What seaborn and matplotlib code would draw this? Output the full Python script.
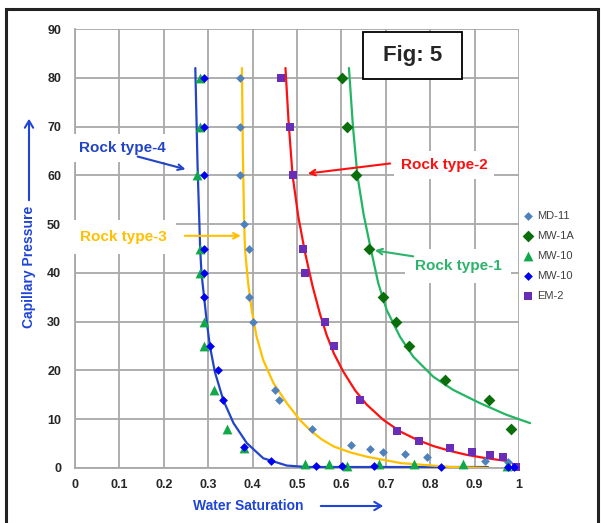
import matplotlib
matplotlib.use("Agg")
import matplotlib.pyplot as plt
from matplotlib.patches import Rectangle
import seaborn as sns

# ---------------- data ----------------
md11_x = [0.372, 0.372, 0.372, 0.381, 0.393, 0.393, 0.400, 0.451, 0.460, 0.534, 0.621, 0.664, 0.694, 0.743, 0.792, 0.923, 0.975]
md11_y = [80, 70, 60, 50, 45, 35, 30, 16, 14, 8, 4.8, 3.8, 3.2, 2.8, 2.2, 1.5, 1.2]

mw1a_x = [0.602, 0.613, 0.632, 0.662, 0.694, 0.724, 0.752, 0.833, 0.933, 0.982]
mw1a_y = [80, 70, 60, 45, 35, 30, 25, 18, 14, 8]

mw10t_x = [0.282, 0.282, 0.275, 0.282, 0.282, 0.290, 0.290, 0.312, 0.342, 0.380, 0.519, 0.572, 0.613, 0.685, 0.764, 0.873, 0.974]
mw10t_y = [80, 70, 60, 45, 40, 30, 25, 16, 8, 4, 0.8, 0.8, 0.5, 0.8, 0.8, 0.8, 0.5]

mw10d_x = [0.290, 0.290, 0.290, 0.290, 0.290, 0.291, 0.305, 0.321, 0.333, 0.380, 0.442, 0.542, 0.602, 0.673, 0.824, 0.975, 0.989]
mw10d_y = [80, 70, 60, 45, 40, 35, 25, 20, 14, 4.3, 1.4, 0.5, 0.5, 0.5, 0.3, 0.3, 0.2]

em2_x = [0.463, 0.484, 0.490, 0.513, 0.519, 0.562, 0.583, 0.643, 0.725, 0.775, 0.845, 0.895, 0.935, 0.963, 0.993]
em2_y = [80, 70, 60, 45, 40, 30, 25, 14, 7.6, 5.6, 4.0, 3.2, 2.7, 2.2, 0.2]

# fitted rock-type curves
rt4_x = [0.271, 0.276, 0.282, 0.285, 0.291, 0.297, 0.304, 0.315, 0.334, 0.357, 0.387, 0.424, 0.477, 0.522, 0.650, 0.800, 0.930]
rt4_y = [82, 62, 44.7, 39.8, 34.8, 29.8, 24.9, 19.7, 13.9, 9.2, 5.1, 2.0, 0.5, 0.2, 0.2, 0.2, 0.2]

rt3_x = [0.376, 0.378, 0.381, 0.383, 0.390, 0.398, 0.409, 0.424, 0.447, 0.477, 0.507, 0.529, 0.555, 0.583, 0.620, 0.658, 0.734, 0.846, 0.930]
rt3_y = [82, 65, 50, 44.7, 37.9, 32.4, 26.9, 22.1, 17.4, 13.3, 9.8, 7.8, 5.9, 4.4, 3.2, 2.3, 1.0, 0.2, 0.0]

rt2_x = [0.474, 0.481, 0.490, 0.503, 0.518, 0.535, 0.552, 0.567, 0.583, 0.604, 0.631, 0.657, 0.694, 0.732, 0.770, 0.807, 0.845, 0.882, 0.920, 0.975]
rt2_y = [82, 71, 60, 51.5, 44.2, 37.3, 31.5, 27.2, 23.5, 19.8, 15.9, 13.0, 9.9, 7.5, 5.8, 4.5, 3.5, 2.7, 2.1, 1.4]

rt1_x = [0.617, 0.626, 0.636, 0.650, 0.666, 0.683, 0.702, 0.732, 0.762, 0.807, 0.852, 0.912, 0.972, 1.025]
rt1_y = [82, 70, 60, 52, 45, 37.9, 32.4, 26.9, 22.8, 18.7, 16.0, 13.3, 10.9, 9.2]

x_ticks = [0, 0.1, 0.2, 0.3, 0.4, 0.5, 0.6, 0.7, 0.8, 0.9, 1]
x_tick_labels = ["0", "0.1", "0.2", "0.3", "0.4", "0.5", "0.6", "0.7", "0.8", "0.9", "1"]
y_ticks = [0, 10, 20, 30, 40, 50, 60, 70, 80, 90]

# ---------------- style ----------------
sns.set_style("white")
plt.rcParams["font.family"] = ["Liberation Sans", "DejaVu Sans"]

W, H = 601, 523
fig = plt.figure(figsize=(W / 100, H / 100), dpi=100)
ax = fig.add_axes([75 / W, 1 - 468 / H, (519 - 75) / W, (468 - 29) / H])

grid_c = "#A8A8A8"
ax.set_xlim(0, 1)
ax.set_ylim(0, 90)
ax.set_xticks(x_ticks)
ax.set_xticklabels(x_tick_labels)
ax.set_yticks(y_ticks)
ax.grid(True, color=grid_c, lw=1.3, zorder=0)
ax.set_axisbelow(True)
for s in ["top", "right"]:
    ax.spines[s].set_visible(False)
for s in ["left", "bottom"]:
    ax.spines[s].set_color(grid_c)
    ax.spines[s].set_linewidth(1.3)
ax.tick_params(axis="both", which="both", length=4, width=1.0, color=grid_c,
               labelsize=9, direction="out")
ax.tick_params(axis="x", pad=4)
ax.tick_params(axis="y", pad=6)
for lab in ax.get_xticklabels() + ax.get_yticklabels():
    lab.set_fontweight("bold")
ax.set_xlabel("")
ax.set_ylabel("")

# ---------------- curves ----------------
c4, c3, c2, c1 = "#2244C8", "#FFC000", "#FF1010", "#22B562"
sns.lineplot(x=rt4_x, y=rt4_y, sort=False, estimator=None, color=c4, lw=1.6, ax=ax, zorder=4)
sns.lineplot(x=rt3_x, y=rt3_y, sort=False, estimator=None, color=c3, lw=1.6, ax=ax, zorder=4)
sns.lineplot(x=rt2_x, y=rt2_y, sort=False, estimator=None, color=c2, lw=1.6, ax=ax, zorder=4)
sns.lineplot(x=rt1_x, y=rt1_y, sort=False, estimator=None, color=c1, lw=1.6, ax=ax, zorder=4, clip_on=False)

# ---------------- points ----------------
sns.scatterplot(x=md11_x, y=md11_y, marker="D", s=20, color="#4F81BD", linewidth=0, ax=ax, label="MD-11", zorder=5, clip_on=False)
sns.scatterplot(x=mw1a_x, y=mw1a_y, marker="D", s=36, color="#0A6E0A", linewidth=0, ax=ax, label="MW-1A", zorder=5, clip_on=False)
sns.scatterplot(x=mw10t_x, y=mw10t_y, marker="^", s=50, color="#11A84A", linewidth=0, ax=ax, label="MW-10", zorder=5, clip_on=False)
sns.scatterplot(x=mw10d_x, y=mw10d_y, marker="D", s=20, color="#0000F0", linewidth=0, ax=ax, label="MW-10", zorder=6, clip_on=False)
sns.scatterplot(x=em2_x, y=em2_y, marker="s", s=30, color="#6A2DB8", linewidth=0, ax=ax, label="EM-2", zorder=5, clip_on=False)

handles, labels = ax.get_legend_handles_labels()
if ax.get_legend() is not None:
    ax.get_legend().remove()
leg = fig.legend(handles, labels, loc="upper left", bbox_to_anchor=(524 / W, 1 - 211 / H),
                 frameon=False, fontsize=8, labelspacing=0.9, handlelength=0.8,
                 handletextpad=0.35, borderaxespad=0, borderpad=0)
for t in leg.get_texts():
    t.set_color("#404040")

# ---------------- annotations ----------------
box = dict(facecolor="white", edgecolor="none", pad=5)
ax.text(0.106, 65.6, "Rock type-4", color=c4, fontsize=11, fontweight="bold",
        ha="center", va="center", bbox=box, zorder=3)
ax.annotate("", xy=(0.255, 61.1), xytext=(0.135, 64.0),
            arrowprops=dict(arrowstyle="->", color=c4, lw=1.5), zorder=7)

ax.text(0.108, 47.4, "Rock type-3", color=c3, fontsize=11, fontweight="bold",
        ha="center", va="center", bbox=dict(facecolor="white", edgecolor="none", pad=7), zorder=3)
ax.annotate("", xy=(0.380, 47.6), xytext=(0.241, 47.6),
            arrowprops=dict(arrowstyle="->", color=c3, lw=1.5), zorder=7)

ax.text(0.831, 62.1, "Rock type-2", color=c2, fontsize=11, fontweight="bold",
        ha="center", va="center", bbox=box, zorder=3)
ax.annotate("", xy=(0.518, 60.3), xytext=(0.716, 62.5),
            arrowprops=dict(arrowstyle="->", color=c2, lw=1.5), zorder=7)

ax.text(0.863, 41.4, "Rock type-1", color="#2DB36B", fontsize=11, fontweight="bold",
        ha="center", va="center", bbox=dict(facecolor="white", edgecolor="none", pad=7), zorder=3)
ax.annotate("", xy=(0.669, 44.7), xytext=(0.768, 43.3),
            arrowprops=dict(arrowstyle="->", color="#2DB36B", lw=1.5), zorder=7)

# ---------------- axis titles with arrows ----------------
lab_c = "#1F45D6"
fig.text(29 / W, 1 - 267 / H, "Capillary Pressure", rotation=90, color=lab_c,
         fontsize=10, fontweight="bold", ha="center", va="center")
fig.patches.append(matplotlib.patches.FancyArrowPatch(
    (29 / W, 1 - 203 / H), (29 / W, 1 - 116 / H), transform=fig.transFigure,
    arrowstyle="->,head_width=3,head_length=5", color=lab_c, lw=1.5))

fig.text(248 / W, 1 - 506 / H, "Water Saturation", color=lab_c,
         fontsize=10, fontweight="bold", ha="center", va="center")
fig.patches.append(matplotlib.patches.FancyArrowPatch(
    (318 / W, 1 - 506 / H), (386 / W, 1 - 506 / H), transform=fig.transFigure,
    arrowstyle="->,head_width=3,head_length=5", color=lab_c, lw=1.5))

# ---------------- "Fig: 5" box ----------------
fig.patches.append(Rectangle((363 / W, 1 - 79 / H), 99 / W, 47 / H, transform=fig.transFigure,
                             fill=True, facecolor="white", edgecolor="black", lw=1.3, zorder=10))
fig.text(412.5 / W, 1 - 55 / H, "Fig: 5", fontsize=16, fontweight="bold",
         ha="center", va="center", zorder=11)

# ---------------- outer frame ----------------
fig.patches.append(Rectangle((6 / W, -0.05), (598 - 6) / W, 1.05 - 9 / H, transform=fig.transFigure,
                             fill=False, edgecolor="#222222", lw=2.2, zorder=12))

fig.savefig("out.png", dpi=100)
